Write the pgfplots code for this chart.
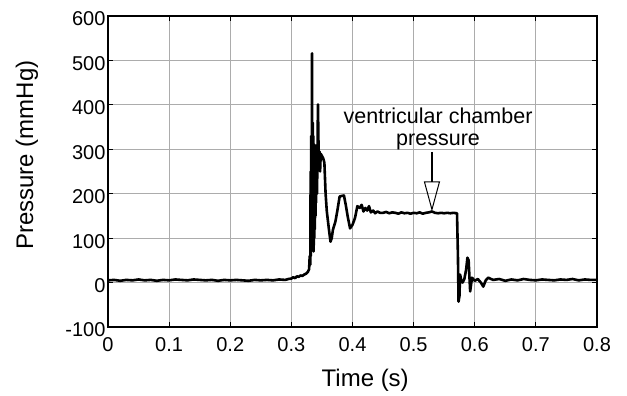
\documentclass[border=0pt]{standalone}
\usepackage{fontspec}
\setmainfont{Liberation Sans}
\usepackage{pgfplots}
\pgfplotsset{compat=1.18}
\usetikzlibrary{arrows.meta}

\begin{document}
\begin{tikzpicture}
\path[use as bounding box] (0,0) rectangle (627pt,396pt);
\begin{axis}[
  at={(108pt,69pt)}, anchor=south west,
  width=489pt, height=311pt, scale only axis,
  xmin=0, xmax=0.8, ymin=-100, ymax=600,
  xtick={0,0.1,0.2,0.3,0.4,0.5,0.6,0.7,0.8},
  xticklabels={0,0.1,0.2,0.3,0.4,0.5,0.6,0.7,0.8},
  ytick={-100,0,100,200,300,400,500,600},
  yticklabels={-100,0,100,200,300,400,500,600},
  grid=major,
  major grid style={gray!65, line width=1pt},
  axis line style={line width=1.5pt},
  tick style={black, line width=1.2pt},
  major tick length=5pt, tick align=inside,
  ticklabel style={font=\fontsize{20}{22}\selectfont},
  xticklabel style={yshift=-7pt},
  yticklabel style={yshift=-3pt, xshift=1pt},
  xlabel={Time (s)}, ylabel={Pressure (mmHg)},
  label style={font=\fontsize{24}{27}\selectfont},
  xlabel style={at={(axis description cs:0.526,-0.17)}, anchor=center},
  ylabel style={at={(axis description cs:-0.166,0.553)}, anchor=center},
]
% measured chamber pressure trace
\addplot[black, line width=2.6pt, line join=round] table {
0      5
0.01   6
0.02   4
0.03   6
0.04   5
0.05   7
0.06   5
0.07   6
0.08   4
0.09   6
0.10   5
0.11   7
0.12   6
0.13   5
0.14   7
0.15   6
0.16   5
0.17   6
0.18   4
0.19   6
0.20   5
0.21   6
0.22   5
0.23   4
0.24   6
0.25   5
0.26   6
0.27   5
0.28   7
0.29   6
0.295  8
0.300  9
0.303  12
0.306  10
0.309  14
0.312  13
0.315  16
0.318  15
0.321  18
0.324  20
0.327  24
0.329  30
0.330  60
0.331  40
0.3315 250
0.332  60
0.3325 330
0.333  80
0.3338 516
0.3345 120
0.335  360
0.3355 90
0.336  330
0.3365 70
0.337  300
0.3375 100
0.338  310
0.3385 120
0.339  290
0.3395 150
0.340  300
0.3405 180
0.341  290
0.342  200
0.3435 401
0.3445 300
0.345  290
0.346  295
0.347  250
0.348  290
0.350  285
0.352  280
0.354  270
0.356  200
0.358  160
0.361  125
0.364  92
0.366  100
0.368  119
0.372  137
0.375  160
0.379  194
0.386  196
0.389  175
0.392  150
0.396  122
0.400  130
0.404  145
0.408  172
0.412  168
0.415  175
0.418  160
0.421  168
0.424  162
0.427  172
0.430  158
0.434  162
0.437  156
0.441  160
0.445  157
0.450  157
0.455  159
0.460  156
0.465  158
0.470  157
0.475  155
0.480  158
0.485  156
0.490  157
0.495  155
0.500  157
0.505  156
0.510  158
0.515  155
0.520  157
0.525  158
0.530  160
0.535  157
0.540  156
0.545  157
0.550  156
0.555  157
0.560  156
0.565  157
0.571  156
0.5725 60
0.5735 -43
0.575  -30
0.576  18
0.578  5
0.580  0
0.583  8
0.586  30
0.588  56
0.590  50
0.5925 -20
0.5955 11
0.600  4
0.605  8
0.610  0
0.614  -9
0.618  5
0.622  11
0.630  6
0.640  8
0.650  4
0.660  7
0.670  5
0.680  8
0.690  6
0.700  5
0.710  7
0.720  6
0.730  5
0.740  7
0.750  6
0.760  8
0.770  5
0.780  7
0.790  6
0.800  6
};
\node[font=\fontsize{21.5}{22}\selectfont, align=center]
  at (axis cs:0.540,346) {ventricular chamber\\pressure};
\draw[line width=2pt, -{Triangle[open, length=30pt, width=16pt, line width=1pt]}]
  (axis cs:0.530,294) -- (axis cs:0.530,160);
\end{axis}
\end{tikzpicture}
\end{document}
